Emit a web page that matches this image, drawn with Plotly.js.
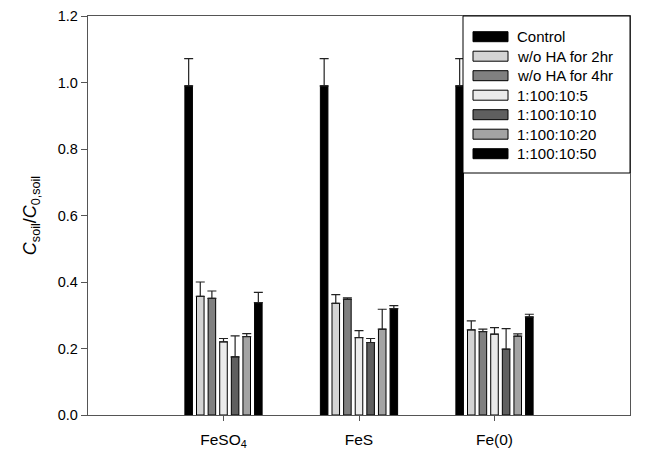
<!DOCTYPE html>
<html>
<head>
<meta charset="utf-8">
<script src="https://cdn.plot.ly/plotly-3.0.1.min.js"></script>
<style>html,body{margin:0;padding:0;background:#fff;}#chart{width:656px;height:465px;}</style>
</head>
<body>
<div id="chart"></div>
<script>
// ---- data ----
const categories = ["FeSO<sub>4</sub>", "FeS", "Fe(0)"];
const seriesNames = ["Control", "w/o HA for 2hr", "w/o HA for 4hr", "1:100:10:5", "1:100:10:10", "1:100:10:20", "1:100:10:50"];
const seriesColors = ["#000000", "#d4d4d4", "#808080", "#ebebeb", "#5f5f5f", "#a3a3a3", "#000000"];

const control   = [0.99, 0.99, 0.99];
const woHA2hr   = [0.357, 0.336, 0.256];
const woHA4hr   = [0.351, 0.348, 0.251];
const r5        = [0.220, 0.233, 0.243];
const r10       = [0.175, 0.218, 0.198];
const r20       = [0.236, 0.258, 0.237];
const r50       = [0.338, 0.320, 0.295];

const controlErr = [0.082, 0.082, 0.082];
const woHA2hrErr = [0.043, 0.026, 0.027];
const woHA4hrErr = [0.022, 0.004, 0.007];
const r5Err      = [0.010, 0.021, 0.020];
const r10Err     = [0.063, 0.012, 0.062];
const r20Err     = [0.009, 0.060, 0.007];
const r50Err     = [0.031, 0.009, 0.008];

const yTickVals = [0, 0.2, 0.4, 0.6, 0.8, 1.0, 1.2];

const seriesValues = [control, woHA2hr, woHA4hr, r5, r10, r20, r50];
const seriesErrors = [controlErr, woHA2hrErr, woHA4hrErr, r5Err, r10Err, r20Err, r50Err];

// ---- layout geometry ----
const W = 656, H = 465;
const M = {l: 88, r: 26, t: 16, b: 50};
const pw = W - M.l - M.r, ph = H - M.t - M.b;
const px = x => (x - M.l) / pw;
const py = y => (H - M.b - y) / ph;

const font = "Liberation Sans, Arial, sans-serif";

const traces = seriesNames.map((name, i) => ({
  type: "bar",
  name: name,
  x: categories,
  y: seriesValues[i],
  marker: {color: seriesColors[i], line: {color: "#000000", width: 1}},
  error_y: {type: "data", symmetric: false, array: seriesErrors[i],
            arrayminus: seriesValues[i].map(() => 0),
            color: "#222222", thickness: 1.2, width: 4.5},
  showlegend: false,
  hoverinfo: "skip"
}));

// custom legend (box, swatches, labels)
const shapes = [{
  type: "rect", xref: "paper", yref: "paper",
  x0: px(463), x1: px(630), y0: py(173), y1: py(16),
  line: {color: "#000000", width: 1}, fillcolor: "#ffffff", layer: "above"
}];
const annotations = [];
seriesNames.forEach((name, i) => {
  const yc = 36.7 + 19.5 * i;
  shapes.push({
    type: "rect", xref: "paper", yref: "paper",
    x0: px(473), x1: px(508), y0: py(yc + 5), y1: py(yc - 5),
    line: {color: "#000000", width: 1}, fillcolor: seriesColors[i], layer: "above"
  });
  annotations.push({
    xref: "paper", yref: "paper", x: px(515), y: py(yc),
    xanchor: "left", yanchor: "middle", showarrow: false,
    text: name, font: {family: font, size: 15, color: "#000000"}
  });
});

const layout = {
  width: W, height: H,
  margin: M,
  paper_bgcolor: "#ffffff", plot_bgcolor: "#ffffff",
  barmode: "group",
  bargap: 0.40,
  bargroupgap: 0.35,
  showlegend: false,
  font: {family: font, size: 14, color: "#000000"},
  xaxis: {
    type: "category",
    range: [-1, 3],
    showline: true, linecolor: "#555555", linewidth: 1.2, mirror: true,
    ticks: "outside", ticklen: 5, tickcolor: "#555555", tickwidth: 1,
    ticklabelstandoff: 5,
    showgrid: false, zeroline: false,
    tickfont: {family: font, size: 15.5, color: "#000000"}
  },
  yaxis: {
    range: [0, 1.2],
    tickvals: yTickVals, tickformat: ".1f",
    showline: true, linecolor: "#555555", linewidth: 1.2, mirror: true,
    ticks: "outside", ticklen: 6, tickcolor: "#555555", tickwidth: 1,
    showgrid: false, zeroline: false,
    tickfont: {family: font, size: 14.5, color: "#000000"},
    title: {text: "<i>C</i><sub>soil</sub>/<i>C</i><sub>0,soil</sub>",
            font: {family: font, size: 18, color: "#000000"}, standoff: 16}
  },
  shapes: shapes,
  annotations: annotations
};

Plotly.newPlot("chart", traces, layout, {displayModeBar: false, staticPlot: true});
</script>
</body>
</html>
